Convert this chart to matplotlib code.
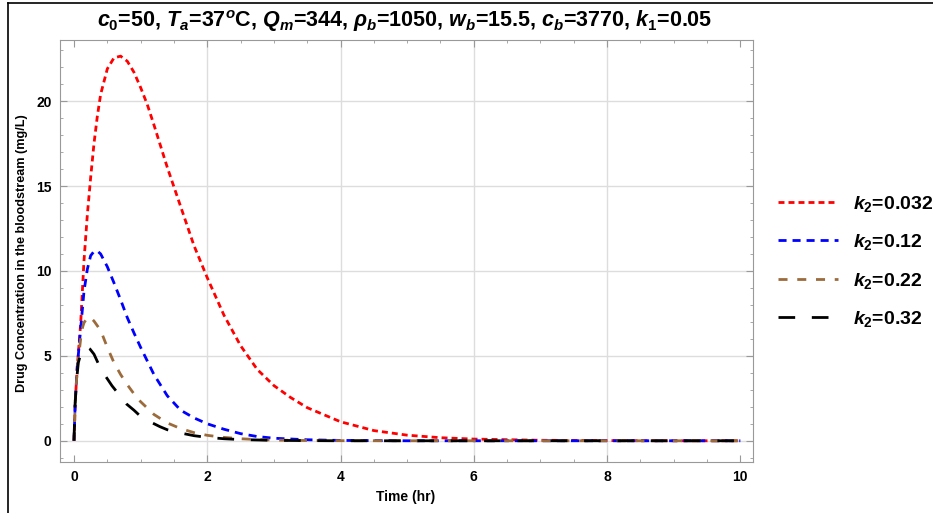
import matplotlib
matplotlib.use('Agg')
import matplotlib.pyplot as plt
from matplotlib.lines import Line2D
from matplotlib.ticker import MultipleLocator

plt.rcParams['font.family'] = ['Liberation Sans', 'DejaVu Sans']
plt.rcParams['mathtext.fontset'] = 'custom'
plt.rcParams['mathtext.rm'] = 'Liberation Sans:bold'
plt.rcParams['mathtext.it'] = 'Liberation Sans:italic:bold'
plt.rcParams['mathtext.bf'] = 'Liberation Sans:bold'
plt.rcParams['mathtext.sf'] = 'Liberation Sans:bold'
plt.rcParams['lines.scale_dashes'] = False

# ---- data ----
t_red = [0, 0.02, 0.05, 0.1, 0.15, 0.2, 0.25, 0.3, 0.35, 0.4, 0.5, 0.6, 0.7, 0.8, 0.9,
         1.0, 1.1, 1.2, 1.4, 1.6, 1.8, 2.0, 2.25, 2.5, 2.75, 3.0, 3.25, 3.5, 4.0, 4.5,
         5.0, 5.5, 6.0, 7.0, 8.0, 9.0, 10.0]
c_red = [0, 2.4, 4.4, 6.9, 10.6, 13.3, 15.5, 17.5, 19.1, 20.4, 21.9, 22.55, 22.65, 22.35, 21.7,
         20.8, 19.8, 18.6, 16.1, 13.8, 11.5, 9.6, 7.4, 5.6, 4.2, 3.25, 2.55, 1.95, 1.12, 0.6,
         0.33, 0.18, 0.1, 0.03, 0.01, 0.0, 0.0]

t_blue = [0, 0.02, 0.05, 0.1, 0.15, 0.2, 0.25, 0.3, 0.35, 0.4, 0.5, 0.6, 0.7, 0.8, 0.9,
          1.0, 1.2, 1.4, 1.6, 1.8, 2.0, 2.25, 2.5, 2.75, 3.0, 3.5, 4.0, 5.0, 6.0, 8.0, 10.0]
c_blue = [0, 2.4, 4.4, 6.6, 8.8, 10.1, 10.9, 11.15, 11.18, 11.0, 10.25, 9.3, 8.3, 7.25, 6.35,
          5.5, 3.9, 2.65, 1.8, 1.35, 1.0, 0.68, 0.42, 0.25, 0.15, 0.06, 0.02, 0.0, 0.0, 0.0, 0.0]

t_brown = [0, 0.02, 0.05, 0.1, 0.13, 0.15, 0.2, 0.25, 0.3, 0.4, 0.5, 0.6, 0.7, 0.8, 0.94,
           1.0, 1.2, 1.4, 1.6, 1.8, 2.0, 2.25, 2.5, 2.75, 3.0, 3.5, 4.0, 5.0, 6.0, 8.0, 10.0]
c_brown = [0, 2.4, 4.3, 6.0, 6.7, 6.95, 7.25, 7.25, 7.05, 6.5, 5.5, 4.6, 3.9, 3.3, 2.55,
           2.3, 1.55, 1.05, 0.72, 0.48, 0.32, 0.2, 0.12, 0.07, 0.04, 0.015, 0.005, 0.0, 0.0, 0.0, 0.0]

t_black = [0, 0.015, 0.04, 0.065, 0.1, 0.16, 0.2, 0.24, 0.3, 0.41, 0.5, 0.57, 0.7, 0.79, 0.9,
           0.99, 1.1, 1.29, 1.4, 1.56, 1.8, 2.0, 2.25, 2.5, 3.0, 3.5, 4.0, 5.0, 6.0, 8.0, 10.0]
c_black = [0, 2.06, 3.6, 4.6, 5.1, 5.5, 5.5, 5.4, 5.1, 4.16, 3.65, 3.24, 2.6, 2.16, 1.8,
           1.47, 1.2, 0.83, 0.65, 0.49, 0.3, 0.2, 0.12, 0.07, 0.025, 0.01, 0.0, 0.0, 0.0, 0.0, 0.0]

labels = [r'$k_2$=0.032', r'$k_2$=0.12', r'$k_2$=0.22', r'$k_2$=0.32']
title = (r'$c_0$=50, $T_a$=37$^o$C, $Q_m$=344, $\rho_b$=1050, '
         r'$w_b$=15.5, $c_b$=3770, $k_1$=0.05')

# ---- figure ----
W, H = 933, 513
fig = plt.figure(figsize=(W / 100, H / 100), dpi=100)
ax = fig.add_axes([60 / W, 51 / H, 693 / W, 422 / H])

grid_c = '#dddddd'
for gx in [2, 4, 6, 8]:
    ax.axvline(gx, color=grid_c, lw=1.0, zorder=0)
for gy in [0, 5, 10, 15, 20]:
    ax.axhline(gy, color=grid_c, lw=1.0, zorder=0)

series = [
    (t_red, c_red, '#ff0000', (4.3, 2.9)),
    (t_blue, c_blue, '#0000ff', (5.8, 4.3)),
    (t_brown, c_brown, '#9c6b3c', (6.5, 7.0)),
    (t_black, c_black, '#000000', (12.0, 12.0)),
]
handles = []
for (t, c, col, dash), lab in zip(series, labels):
    ln, = ax.plot(t, c, color=col, lw=2.0, label=lab)
    ln.set_dashes(dash)
    handles.append(ln)

ax.set_xlim(-0.21, 10.19)
ax.set_ylim(-1.25, 23.6)
ax.xaxis.set_major_locator(MultipleLocator(2))
ax.xaxis.set_minor_locator(MultipleLocator(0.5))
ax.yaxis.set_major_locator(MultipleLocator(5))
ax.yaxis.set_minor_locator(MultipleLocator(1))
ax.tick_params(which='both', direction='in', top=True, right=True, color='#999999')
ax.tick_params(which='major', length=5, width=0.8, labelsize=10, pad=6)
ax.tick_params(which='minor', length=2.5, width=0.6)
for lab in ax.get_xticklabels() + ax.get_yticklabels():
    lab.set_fontweight('bold')
for sp in ax.spines.values():
    sp.set_color('#999999')
    sp.set_linewidth(0.8)

fig.text(406 / W, 1 - 497 / H, 'Time (hr)', ha='center', va='center',
         fontsize=10, fontweight='bold')
fig.text(22 / W, 1 - 253 / H, 'Drug Concentration in the bloodstream (mg/L)',
         rotation=90, ha='center', va='center', fontsize=9.1, fontweight='bold')
fig.text(405 / W, 1 - 21 / H, title, ha='center', va='center',
         fontsize=15.5, fontweight='bold')

fig.legend(handles=handles, labels=labels, loc='upper left',
           bbox_to_anchor=(770 / W, 1 - 186 / H), frameon=False,
           prop={'size': 14, 'weight': 'bold'}, handlelength=3.1,
           handletextpad=0.75, labelspacing=0.95, borderaxespad=0)

# outer border of the image
fig.add_artist(Line2D([8 / W, 8 / W], [0, 1 - 3 / H], transform=fig.transFigure,
                      color='black', lw=1.2))
fig.add_artist(Line2D([8 / W, 1], [1 - 3 / H, 1 - 3 / H], transform=fig.transFigure,
                      color='black', lw=1.2))

fig.savefig('out.png', dpi=100)
